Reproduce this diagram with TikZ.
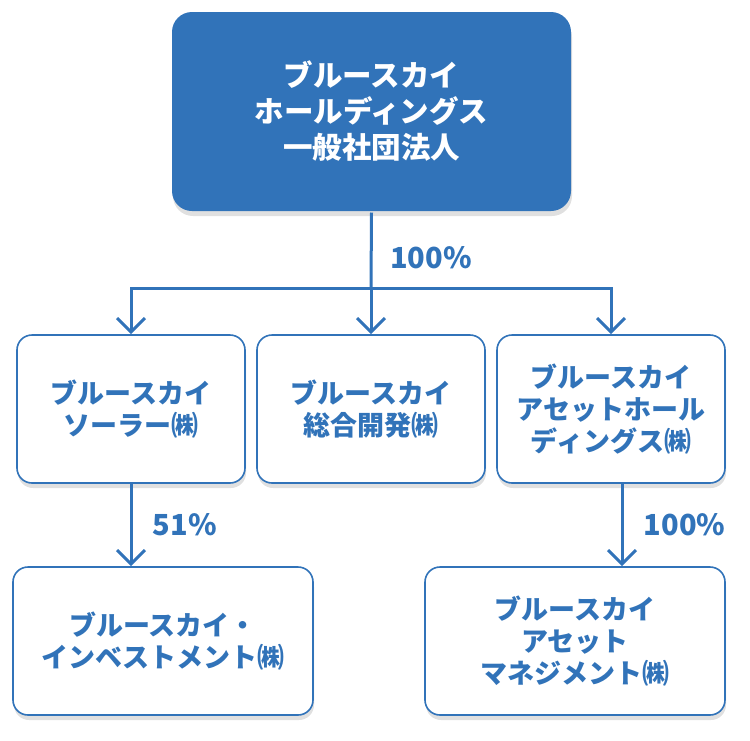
\documentclass[tikz,border=0pt]{standalone}
\usepackage{fontspec}
\setmainfont{Noto Sans CJK JP}
\usetikzlibrary{arrows.meta,shadows}
\definecolor{bsblue}{RGB}{49,115,185}

\begin{document}
\begin{tikzpicture}[x=1pt,y=-1pt,line width=3pt,draw=bsblue,
    >={Straight Barb[length=14pt,width=28pt]},
    softshadow/.style={drop shadow={shadow xshift=1pt,shadow yshift=-5pt,opacity=0.12,fill=black}},
    holding/.style={fill=bsblue,draw=none,rounded corners=20pt,softshadow,
      minimum width=399pt,minimum height=199pt,align=center,text=white,
      font=\bfseries\fontsize{29.5}{36}\selectfont},
    company/.style={draw=bsblue,line width=1.6pt,fill=white,rounded corners=15pt,softshadow,
      minimum height=148pt,align=center,text=bsblue,
      font=\bfseries\fontsize{27}{32}\selectfont},
    pct/.style={text=bsblue,font=\bfseries\fontsize{29}{30}\selectfont}]

  \useasboundingbox (0,0) rectangle (750,740);

  \node[holding]                       (top) at (371.5,111.5) {ブルースカイ\\ホールディングス\\一般社団法人};

  \node[company,minimum width=228pt]  (sol) at (131,409)   {ブルースカイ\\ソーラー㈱};
  \node[company,minimum width=228pt]  (dev) at (371,409)   {ブルースカイ\\総合開発㈱};
  \node[company,minimum width=228pt]  (ahd) at (611,409)   {ブルースカイ\\アセットホール\\ディングス㈱};

  \node[company,minimum width=300pt]  (inv) at (163,641)   {ブルースカイ・\\インベストメント㈱};
  \node[company,minimum width=300pt]  (mgt) at (575,641)   {ブルースカイ\\アセット\\マネジメント㈱};

  \coordinate (split) at (371,288);
  \coordinate (ahdout) at ([xshift=11pt]ahd.south);

  % ownership lines
  \draw (top.south) -- node[pct,right=14pt,pos=0.6] {100\%} (split);
  \draw[->] (split) -| (sol.north);
  \draw[->] (split) -| (ahd.north);
  \draw[->] (split) -- (dev.north);

  \draw[->] (sol.south) -- node[pct,right=17pt] {51\%} (sol.south |- inv.north);
  \draw[->] (ahdout) -- node[pct,right=17pt] {100\%} (ahdout |- mgt.north);
\end{tikzpicture}
\end{document}
